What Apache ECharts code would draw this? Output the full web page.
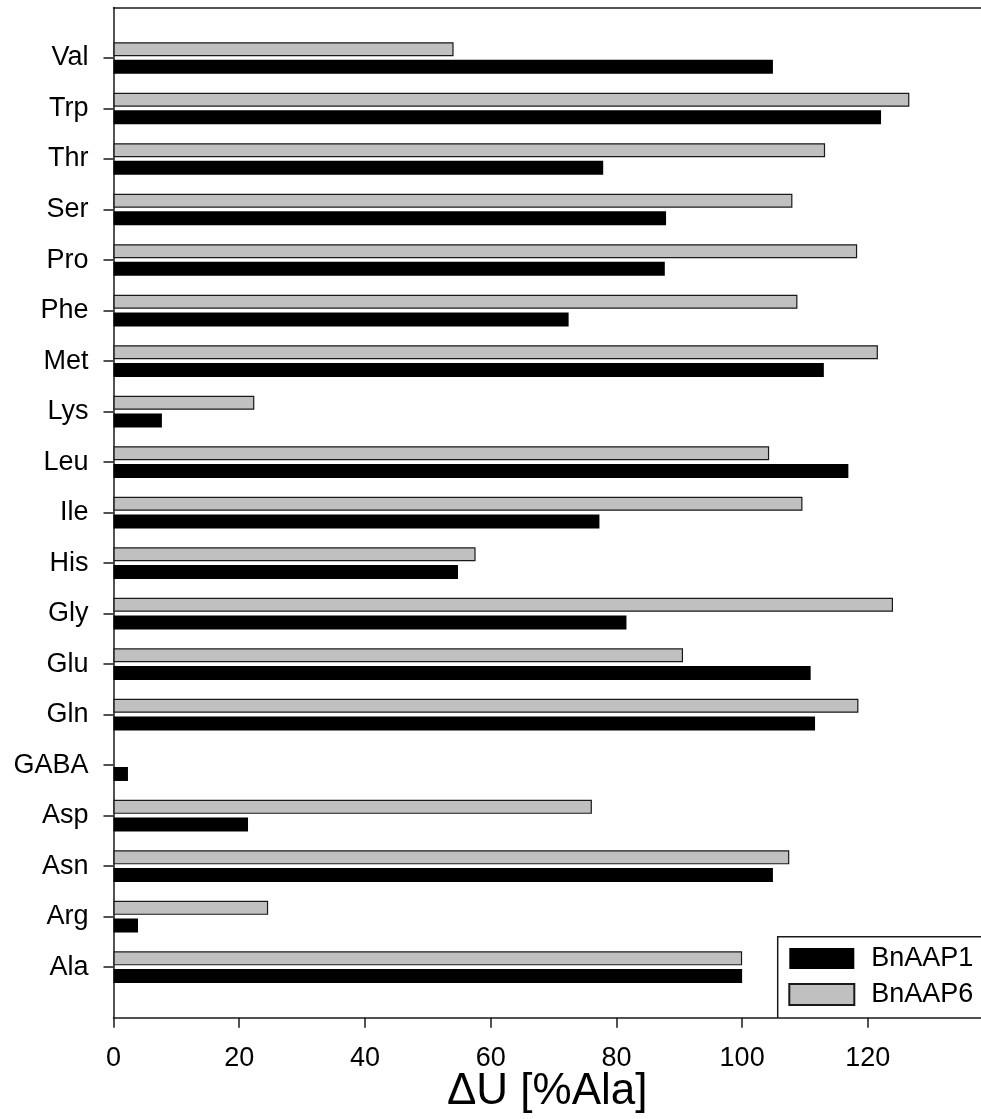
<!DOCTYPE html>
<html>
<head>
<meta charset="utf-8">
<title>ΔU [%Ala] – BnAAP1 / BnAAP6</title>
<script src="https://cdn.jsdelivr.net/npm/echarts@6/dist/echarts.min.js"></script>
<style>
  html, body { margin: 0; padding: 0; background: #fff; }
  #chart { width: 981px; height: 1119px; }
</style>
</head>
<body>
<div id="chart"></div>
<script>
// Amino acids, bottom to top
const aminoAcids = ['Ala', 'Arg', 'Asn', 'Asp', 'GABA', 'Gln', 'Glu', 'Gly', 'His', 'Ile',
                    'Leu', 'Lys', 'Met', 'Phe', 'Pro', 'Ser', 'Thr', 'Trp', 'Val'];

// Uptake relative to alanine (%)
const bnAAP1 = [100, 3.9, 104.9, 21.4, 2.3, 111.6, 110.9, 81.6, 54.8, 77.3,
                116.9, 7.7, 113.0, 72.4, 87.7, 87.9, 77.9, 122.1, 104.9];
const bnAAP6 = [100, 24.6, 107.5, 76.1, null, 118.5, 90.6, 124.0, 57.6, 109.6,
                104.3, 22.4, 121.6, 108.8, 118.3, 108.0, 113.2, 126.6, 54.1];

const xTicks = [0, 20, 40, 60, 80, 100, 120];
const xMax = 138;

// Empty slots above and below give the axis its half-step margin at both ends
const yCats = [''].concat(aminoAcids, ['']);
const pad = (arr) => [null].concat(arr, [null]);

const FONT = 'Liberation Sans, Arial, sans-serif';
const INK = '#1a1a1a';

const chart = echarts.init(document.getElementById('chart'), null, { renderer: 'canvas' });

chart.setOption({
  animation: false,
  backgroundColor: '#fff',
  grid: {
    left: 113.5,
    top: 7.5,
    bottom: 101.3,
    right: 0,
    outerBoundsMode: 'none'
  },
  // legend frame: white panel with left and top edges, open past the page edge
  graphic: [
    {
      type: 'rect',
      z: 3,
      shape: { x: 777.7, y: 936.7, width: 240, height: 81 },
      style: { fill: '#fff', stroke: null, lineWidth: 0 }
    },
    {
      type: 'polyline',
      z: 3,
      shape: { points: [[777.7, 1017.7], [777.7, 936.7], [1010, 936.7]] },
      style: { fill: null, stroke: INK, lineWidth: 1.5 }
    }
  ],
  legend: {
    orient: 'vertical',
    left: 778,
    top: 937,
    z: 5,
    data: ['BnAAP1', 'BnAAP6'],
    icon: 'rect',
    itemWidth: 65,
    itemHeight: 21,
    itemGap: 9,
    padding: [8, 0, 0, 10.3],
    textStyle: {
      fontFamily: FONT, fontSize: 27, color: '#000',
      padding: [0, 0, 0, 12]
    }
  },
  xAxis: [
    {
      type: 'value',
      min: 0,
      max: xMax,
      interval: 20,
      name: 'ΔU [%Ala]',
      nameLocation: 'middle',
      nameGap: 52,
      nameMoveOverlap: false,
      nameTextStyle: { fontFamily: FONT, fontSize: 44, color: '#000' },
      axisLine: { show: true, lineStyle: { color: INK, width: 1.5 } },
      axisTick: { show: true, inside: false, length: 10, lineStyle: { color: INK, width: 1.5 } },
      axisLabel: {
        fontFamily: FONT, fontSize: 27, color: '#000', margin: 27,
        showMaxLabel: false,
        formatter: (v) => (xTicks.indexOf(v) >= 0 ? String(v) : '')
      },
      splitLine: { show: false },
      z: 4
    },
    {
      // frame line along the top of the plot
      type: 'value',
      position: 'top',
      min: 0,
      max: xMax,
      axisLine: { show: true, onZero: false, lineStyle: { color: INK, width: 1.5 } },
      axisTick: { show: false },
      axisLabel: { show: false },
      splitLine: { show: false }
    }
  ],
  yAxis: {
    type: 'category',
    data: yCats,
    boundaryGap: false,
    axisLine: { show: true, lineStyle: { color: INK, width: 1.5 } },
    axisTick: {
      show: true, inside: false, length: 10,
      interval: (i) => i > 0 && i < yCats.length - 1,
      lineStyle: { color: INK, width: 1.5 }
    },
    axisLabel: {
      fontFamily: FONT, fontSize: 27, color: '#000', margin: 25,
      interval: 0
    },
    splitLine: { show: false }
  },
  series: [
    {
      name: 'BnAAP6',
      type: 'bar',
      xAxisIndex: 0,
      data: pad(bnAAP6),
      barWidth: 14,
      barGap: '26%',
      itemStyle: { color: '#c0c0c0', borderColor: INK, borderWidth: 1.2 }
    },
    {
      name: 'BnAAP1',
      type: 'bar',
      xAxisIndex: 0,
      data: pad(bnAAP1),
      barWidth: 14,
      barGap: '26%',
      itemStyle: { color: '#000', borderColor: '#000', borderWidth: 0 }
    }
  ]
});
</script>
</body>
</html>
